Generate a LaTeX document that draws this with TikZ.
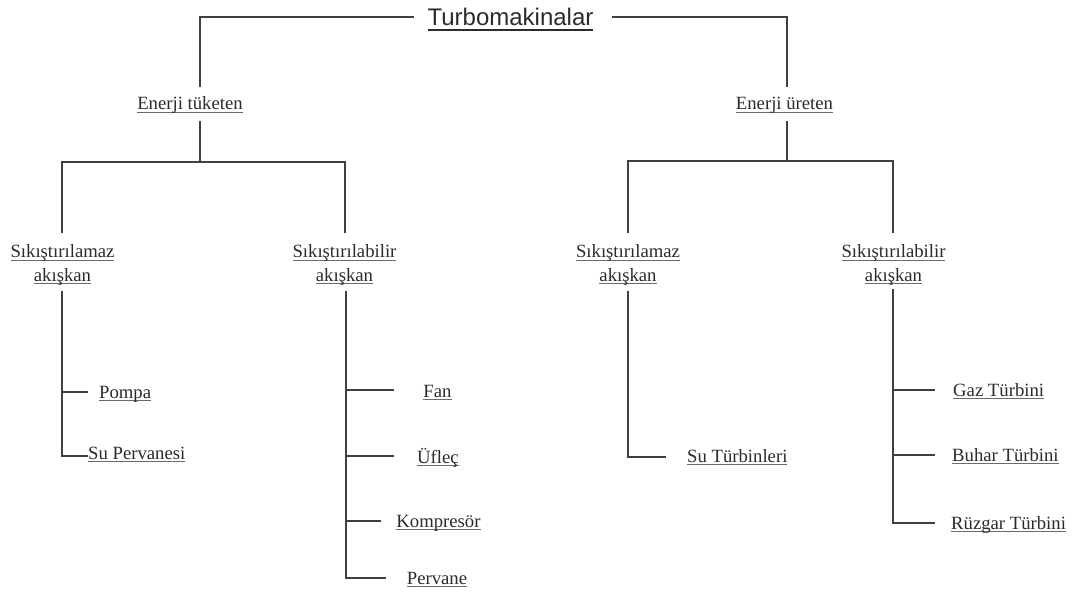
\documentclass[tikz,border=0pt]{standalone}
\usepackage{fontspec}
\setmainfont{Liberation Serif}
\newfontfamily\headfont{Liberation Sans}
\definecolor{txt}{HTML}{2B2B2B}
\definecolor{linec}{HTML}{404040}
\definecolor{ulc}{HTML}{6A6A6A}
% underlined label at a fixed depth below the baseline
\newcommand\ulabel[1]{\setbox0=\hbox{#1}\rlap{\textcolor{ulc}{\rule[-3.3pt]{\wd0}{1.2pt}}}\box0}
\newcommand\ulhead[1]{\setbox0=\hbox{#1}\rlap{\textcolor{txt}{\rule[-4.8pt]{\wd0}{1.6pt}}}\box0}
\newcommand\twolines[2]{\begin{tabular}[t]{@{}c@{}}\ulabel{#1}\\\ulabel{#2}\end{tabular}}
\begin{document}
\begin{tikzpicture}[x=1pt,y=-1pt,
  lbl/.style={anchor=base, inner sep=0pt, text=txt,
    font=\fontsize{18.7}{23.5}\selectfont},
  lblw/.style={lbl, anchor=base west},
  head/.style={anchor=base, inner sep=0pt, text=txt,
    font=\headfont\fontsize{24}{28}\selectfont},
  conn/.style={draw=linec, line width=1.8pt, line cap=rect, line join=miter}]
\useasboundingbox (0,0) rectangle (1075,591);

% labels
\node[head] (top) at (510.5,26) {\ulhead{Turbomakinalar}};
\node[lbl] (tuk) at (190,109.5) {\ulabel{Enerji tüketen}};
\node[lbl] (ure) at (784.5,109.5) {\ulabel{Enerji üreten}};

\node[lbl] (tsz) at (62.5,257.5) {\twolines{Sıkıştırılamaz}{akışkan}};
\node[lbl] (tsb) at (344.5,257.5) {\twolines{Sıkıştırılabilir}{akışkan}};
\node[lbl] (usz) at (628,257.5) {\twolines{Sıkıştırılamaz}{akışkan}};
\node[lbl] (usb) at (893.5,257.5) {\twolines{Sıkıştırılabilir}{akışkan}};

\node[lblw] (pompa) at (99,398) {\ulabel{Pompa}};
\node[lblw] (supv) at (88,459) {\ulabel{Su Pervanesi}};

\node[lbl] (fan) at (437.5,397) {\ulabel{Fan}};
\node[lbl] (ufl) at (438,463) {\ulabel{Üfleç}};
\node[lbl] (komp) at (438.5,527) {\ulabel{Kompresör}};
\node[lbl] (perv) at (437,584) {\ulabel{Pervane}};

\node[lblw] (sutr) at (687,462) {\ulabel{Su Türbinleri}};

\node[lblw] (gaz) at (953,396) {\ulabel{Gaz Türbini}};
\node[lblw] (buhar) at (952,461) {\ulabel{Buhar Türbini}};
\node[lblw] (ruz) at (951,529) {\ulabel{Rüzgar Türbini}};

% junction points of the tree
\coordinate (topL) at (413,17);   \coordinate (topR) at (613,17);
\coordinate (tukU) at (200,86);   \coordinate (tukD) at (200,122);
\coordinate (ureU) at (787,86);   \coordinate (ureD) at (787,122);
\coordinate (barL) at (200,162);  \coordinate (barR) at (787,161);
\coordinate (tszU) at (62,232);   \coordinate (tsbU) at (345,232);
\coordinate (uszU) at (628,232);  \coordinate (usbU) at (893,232);
\coordinate (tszD) at (62,292);   \coordinate (tsbD) at (346,292);
\coordinate (uszD) at (628,292);  \coordinate (usbD) at (893,290);

\coordinate (pompaT) at (87,392); \coordinate (supvT) at (87,456);
\coordinate (fanT) at (393,390);  \coordinate (uflT) at (393,456);
\coordinate (kompT) at (380,521); \coordinate (pervT) at (385,578);
\coordinate (sutrT) at (665,457);
\coordinate (gazT) at (934,390);  \coordinate (buharT) at (934,455);
\coordinate (ruzT) at (934,523);

% connectors
\draw[conn] (topL) -| (tukU);
\draw[conn] (topR) -| (ureU);

\draw[conn] (tukD) -- (barL);
\draw[conn] (tszU) |- (barL) -| (tsbU);
\draw[conn] (ureD) -- (barR);
\draw[conn] (uszU) |- (barR) -| (usbU);

\draw[conn] (tszD) |- (supvT);
\draw[conn] (tszD |- pompaT) -- (pompaT);

\draw[conn] (tsbD) |- (pervT);
\draw[conn] (tsbD |- fanT) -- (fanT);
\draw[conn] (tsbD |- uflT) -- (uflT);
\draw[conn] (tsbD |- kompT) -- (kompT);

\draw[conn] (uszD) |- (sutrT);

\draw[conn] (usbD) |- (ruzT);
\draw[conn] (usbD |- gazT) -- (gazT);
\draw[conn] (usbD |- buharT) -- (buharT);
\end{tikzpicture}
\end{document}
